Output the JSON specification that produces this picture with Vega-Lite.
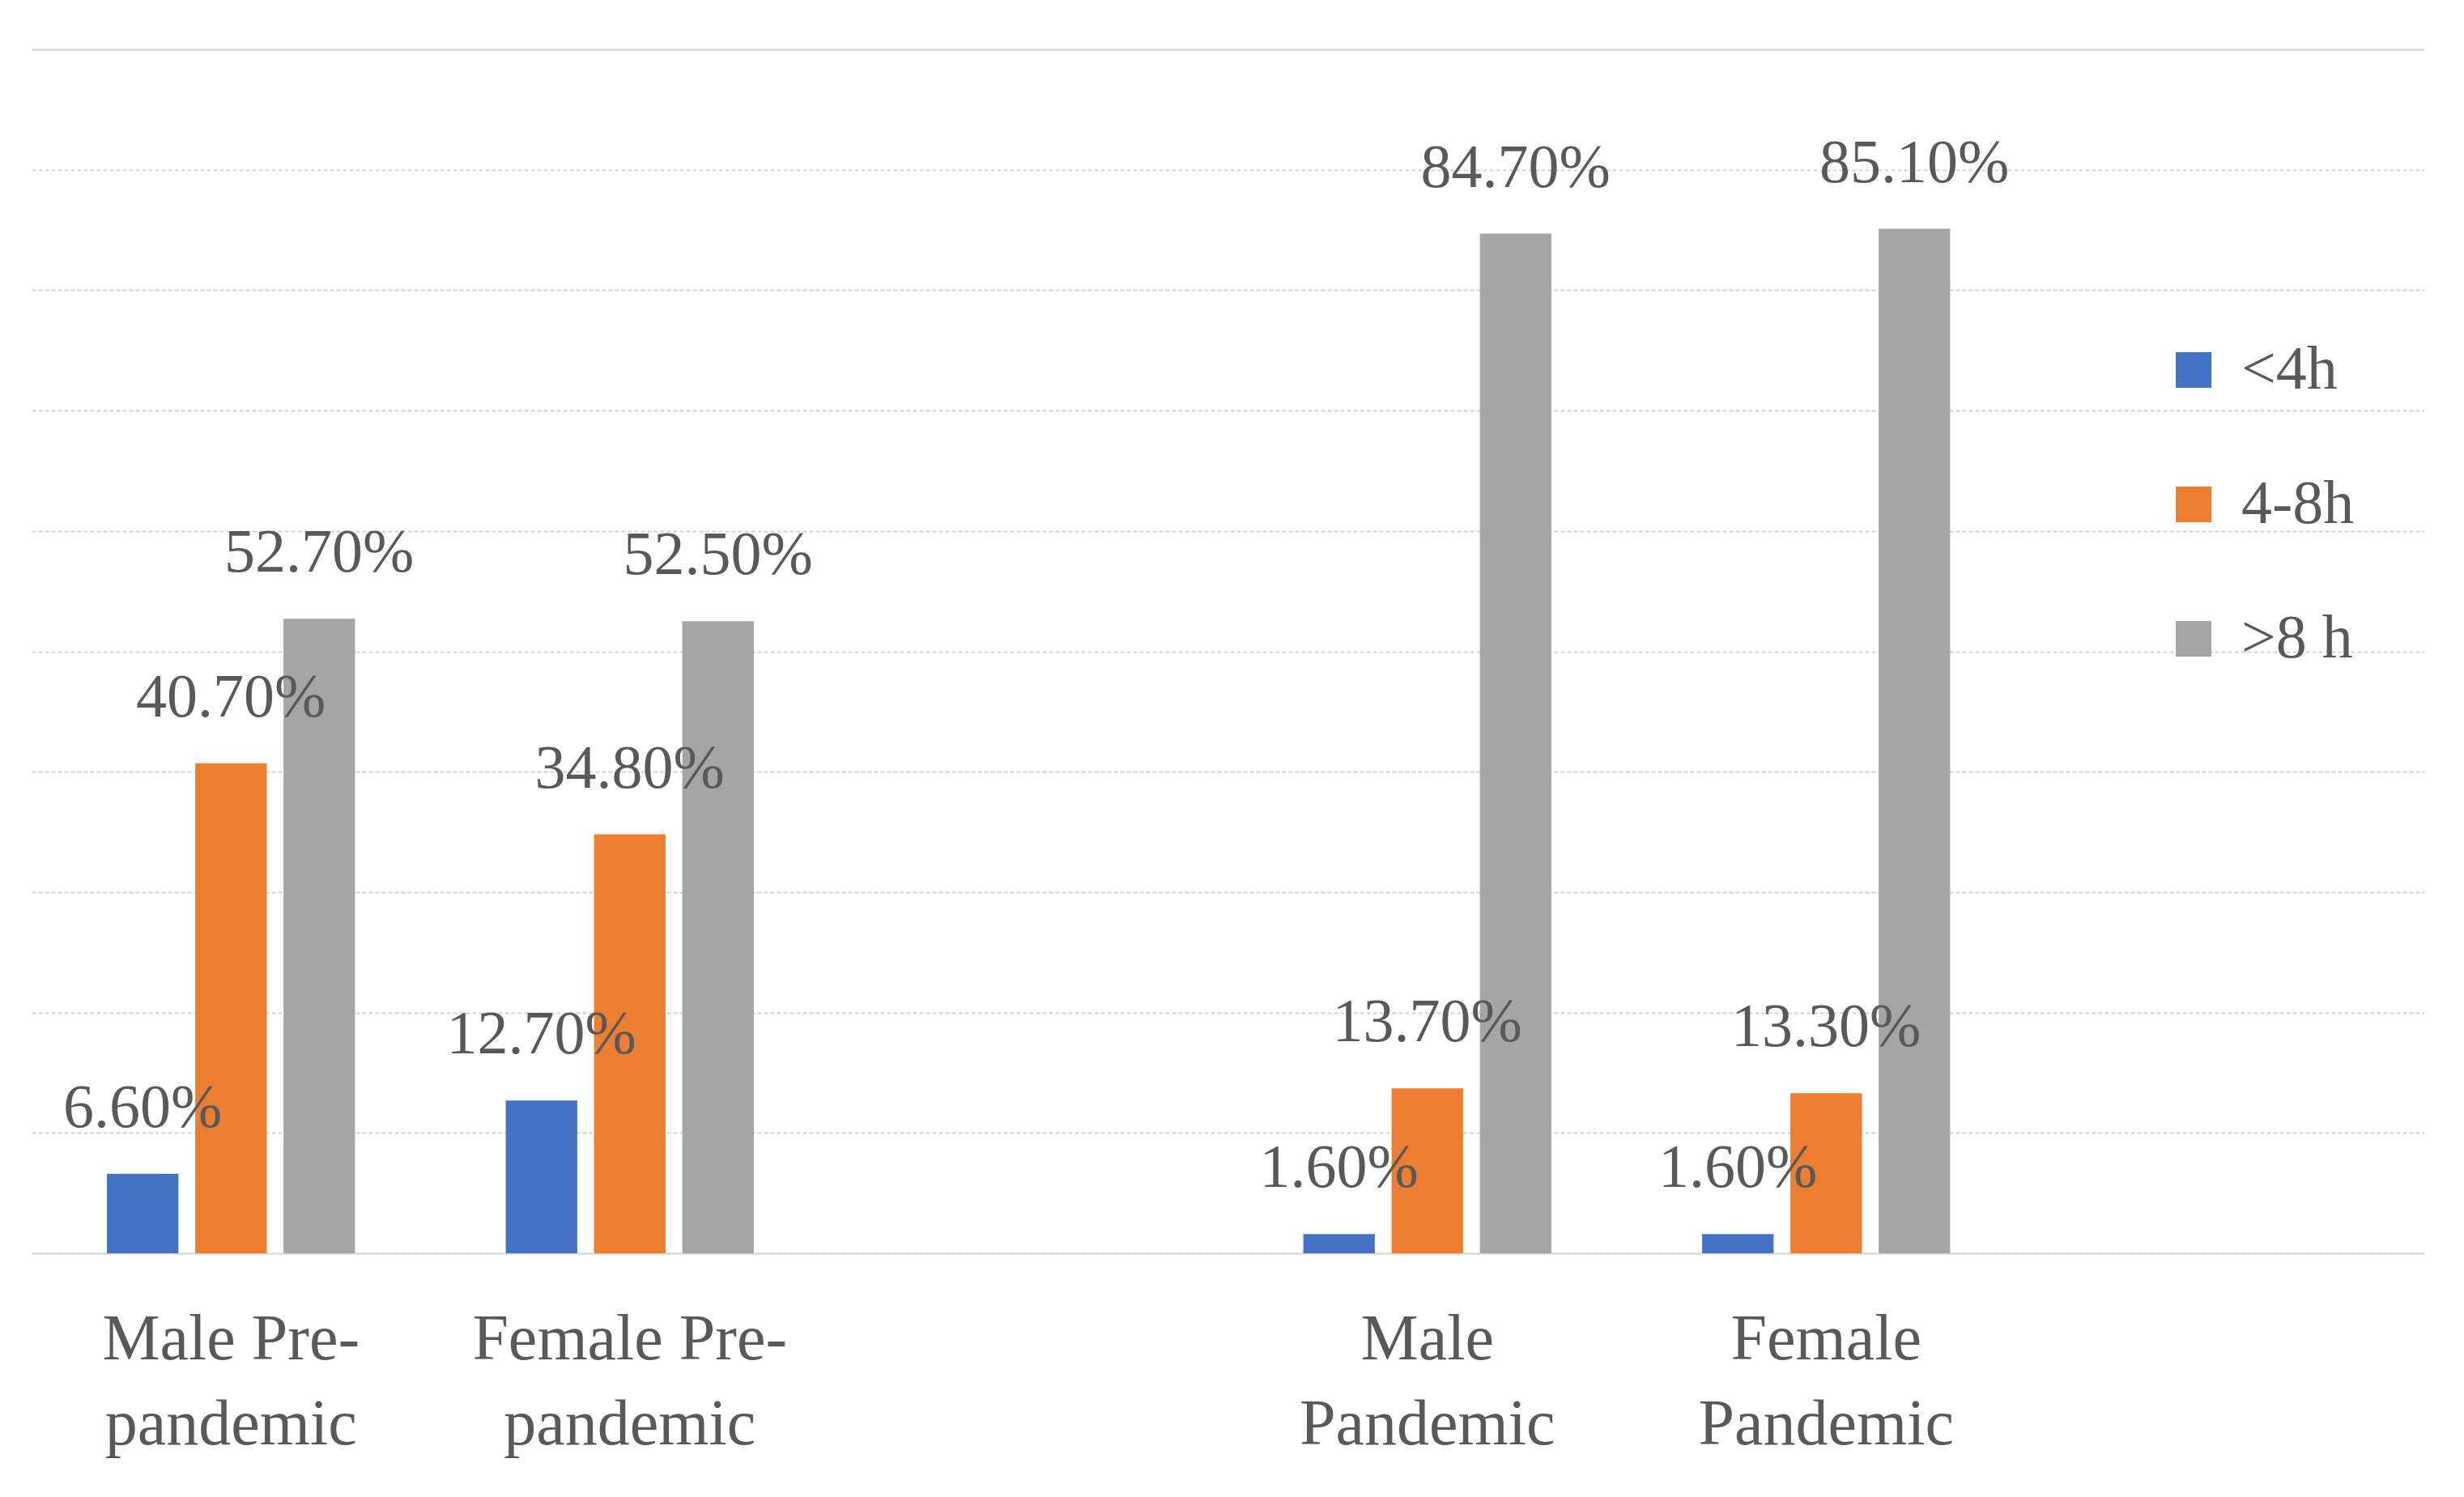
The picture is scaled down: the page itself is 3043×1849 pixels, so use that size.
{
  "$schema": "https://vega.github.io/schema/vega-lite/v6.json",
  "width": 2955,
  "height": 1487,
  "autosize": "none",
  "padding": {"left": 39, "top": 61, "right": 49, "bottom": 301},
  "background": "white",
  "config": {
    "view": {"stroke": null},
    "font": "Liberation Serif"
  },
  "data": {
    "values": [
      {"group": "Male Pre-|pandemic", "hours": "<4h", "share": 0.066},
      {"group": "Male Pre-|pandemic", "hours": "4-8h", "share": 0.407},
      {"group": "Male Pre-|pandemic", "hours": ">8 h", "share": 0.527},
      {"group": "Female Pre-|pandemic", "hours": "<4h", "share": 0.127},
      {"group": "Female Pre-|pandemic", "hours": "4-8h", "share": 0.348},
      {"group": "Female Pre-|pandemic", "hours": ">8 h", "share": 0.525},
      {"group": "Male|Pandemic", "hours": "<4h", "share": 0.016},
      {"group": "Male|Pandemic", "hours": "4-8h", "share": 0.137},
      {"group": "Male|Pandemic", "hours": ">8 h", "share": 0.847},
      {"group": "Female|Pandemic", "hours": "<4h", "share": 0.016},
      {"group": "Female|Pandemic", "hours": "4-8h", "share": 0.133},
      {"group": "Female|Pandemic", "hours": ">8 h", "share": 0.851}
    ]
  },
  "encoding": {
    "x": {
      "field": "group",
      "type": "nominal",
      "sort": null,
      "scale": {
        "domain": ["Male Pre-|pandemic", "Female Pre-|pandemic", "gap1", "Male|Pandemic", "Female|Pandemic", "gap2"],
        "paddingInner": 0,
        "paddingOuter": 0
      },
      "axis": {
        "title": null,
        "labelAngle": 0,
        "labelExpr": "indexof(datum.label, 'gap') == 0 ? '' : split(datum.label, '|')",
        "labelFont": "Liberation Serif",
        "labelFontSize": 80,
        "labelColor": "#595959",
        "labelLineHeight": 105,
        "labelPadding": 67,
        "labelLimit": 0,
        "ticks": false,
        "domain": true,
        "domainColor": "#D9D9D9",
        "domainWidth": 2
      }
    },
    "xOffset": {
      "field": "hours",
      "type": "nominal",
      "scale": {"domain": ["<4h", "4-8h", ">8 h"], "paddingInner": 0.19, "paddingOuter": 0.854}
    },
    "y": {
      "field": "share",
      "type": "quantitative",
      "scale": {"domain": [0, 1], "nice": false},
      "axis": {
        "title": null,
        "labels": false,
        "ticks": false,
        "domain": false,
        "values": [0, 0.1, 0.2, 0.3, 0.4, 0.5, 0.6, 0.7, 0.8, 0.9, 1],
        "grid": true,
        "gridColor": "#D4D4D4",
        "gridWidth": 2,
        "gridDash": {"condition": {"test": "datum.value >= 1", "value": []}, "value": [5, 3]}
      }
    }
  },
  "layer": [
    {
      "mark": {"type": "bar"},
      "encoding": {
        "color": {
          "field": "hours",
          "type": "nominal",
          "scale": {"domain": ["<4h", "4-8h", ">8 h"], "range": ["#4472C4", "#ED7D31", "#A5A5A5"]},
          "legend": {
            "title": null,
            "orient": "none",
            "legendX": 2632,
            "legendY": 358,
            "padding": 0,
            "symbolType": "square",
            "symbolSize": 1936,
            "symbolStrokeWidth": 0,
            "symbolOpacity": 1,
            "labelFont": "Liberation Serif",
            "labelFontSize": 76,
            "labelColor": "#595959",
            "labelOffset": 21,
            "rowPadding": 90
          }
        }
      }
    },
    {
      "mark": {
        "type": "text",
        "baseline": "alphabetic",
        "dy": -58,
        "font": "Liberation Serif",
        "fontSize": 76,
        "color": "#595959"
      },
      "encoding": {
        "text": {"field": "share", "type": "quantitative", "format": ".2%"}
      }
    }
  ]
}
